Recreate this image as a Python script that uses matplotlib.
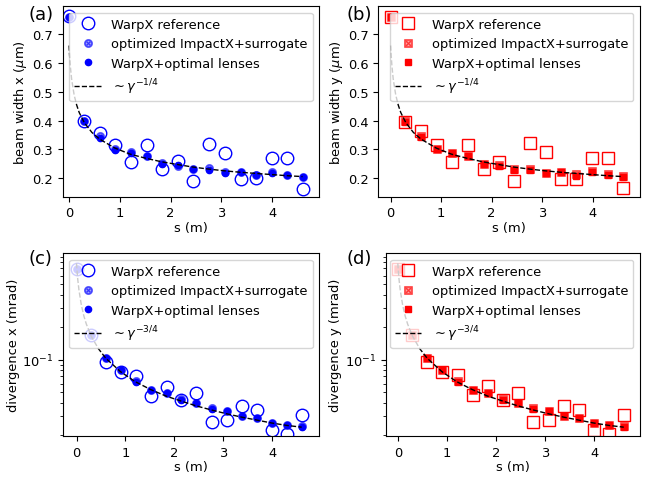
import matplotlib
matplotlib.use("Agg")
import matplotlib.pyplot as plt

plt.rcParams['font.family'] = ['DejaVu Sans']
plt.rcParams['font.size'] = 9.4

# stage positions (m)
s = [0, 0.29, 0.6, 0.91, 1.22, 1.53, 1.84, 2.14, 2.45, 2.76, 3.07, 3.38, 3.68, 3.99, 4.3, 4.61]

# (a) beam width x (um)
wx_ref = [0.761, 0.397, 0.358, 0.314, 0.256, 0.316, 0.232, 0.259, 0.192, 0.319, 0.288, 0.197, 0.200, 0.272, 0.271, 0.163]
wx_opt = [0.758, 0.400, 0.345, 0.302, 0.290, 0.278, 0.252, 0.243, 0.233, 0.235, 0.222, 0.223, 0.213, 0.222, 0.213, 0.206]
wx_lens = [0.758, 0.398, 0.340, 0.299, 0.287, 0.277, 0.250, 0.246, 0.231, 0.230, 0.220, 0.221, 0.211, 0.218, 0.212, 0.205]

# (b) beam width y (um)
wy_ref = [0.758, 0.395, 0.364, 0.317, 0.256, 0.316, 0.232, 0.256, 0.192, 0.323, 0.290, 0.197, 0.197, 0.272, 0.271, 0.165]
wy_opt = [0.758, 0.397, 0.347, 0.303, 0.289, 0.278, 0.251, 0.246, 0.232, 0.233, 0.220, 0.223, 0.215, 0.225, 0.214, 0.207]
wy_lens = [0.758, 0.395, 0.343, 0.300, 0.287, 0.277, 0.250, 0.244, 0.230, 0.230, 0.218, 0.221, 0.209, 0.221, 0.212, 0.206]

# (c) divergence x (mrad)
dx_ref = [0.687, 0.169, 0.096, 0.077, 0.0706, 0.0467, 0.0562, 0.042, 0.0494, 0.0263, 0.0279, 0.0371, 0.034, 0.0225, 0.0205, 0.0306]
dx_opt = [0.687, 0.169, 0.103, 0.081, 0.0635, 0.0525, 0.049, 0.0435, 0.040, 0.0355, 0.0335, 0.030, 0.029, 0.0262, 0.025, 0.0242]
dx_lens = [0.687, 0.169, 0.104, 0.0798, 0.0627, 0.0523, 0.0488, 0.0428, 0.0399, 0.0351, 0.0333, 0.0299, 0.0289, 0.026, 0.0249, 0.024]

# (d) divergence y (mrad)
dy_ref = [0.687, 0.169, 0.096, 0.077, 0.0717, 0.047, 0.057, 0.0422, 0.0494, 0.0263, 0.0279, 0.0371, 0.034, 0.0225, 0.0205, 0.0306]
dy_opt = [0.687, 0.169, 0.103, 0.081, 0.064, 0.0525, 0.049, 0.0432, 0.040, 0.0355, 0.0335, 0.030, 0.0292, 0.0262, 0.025, 0.0242]
dy_lens = [0.687, 0.169, 0.104, 0.0798, 0.0627, 0.0523, 0.0488, 0.0428, 0.0399, 0.0351, 0.0333, 0.0299, 0.0289, 0.026, 0.0249, 0.024]

# scaling reference curves (~gamma^-1/4 and ~gamma^-3/4)
s_fit = [0, 0.01, 0.025, 0.05, 0.1, 0.15, 0.2, 0.3, 0.45, 0.6, 0.9, 1.2, 1.5, 1.83, 2.13,
         2.44, 2.75, 3.06, 3.37, 3.68, 3.99, 4.3, 4.6]
w_fit = [0.66, 0.627, 0.589, 0.545, 0.489, 0.454, 0.428, 0.393, 0.359, 0.336, 0.305, 0.284, 0.270,
         0.257, 0.248, 0.239, 0.232, 0.226, 0.221, 0.217, 0.213, 0.209, 0.206]
d_fit = [0.78, 0.67, 0.555, 0.44, 0.318, 0.254, 0.214, 0.165, 0.126, 0.103, 0.0775, 0.0627, 0.0534,
         0.0461, 0.0416, 0.0375, 0.0344, 0.0317, 0.0295, 0.0277, 0.026, 0.0247, 0.0238]

W, H = 654, 481
fig = plt.figure(figsize=(W / 100, H / 100), dpi=100)


def add_ax(l, r, t, b):
    return fig.add_axes([l / W, 1 - b / H, (r - l) / W, (b - t) / H])


panels = [
    dict(box=(62.7, 319.3, 7, 197.5), ref=wx_ref, opt=wx_opt, lens=wx_lens, fit=w_fit,
         color='blue', m='o', om=r'$\otimes$', ms=9, lms=4.5, oms=5.5,
         ylabel=r'beam width x ($\mu$m)', flab=r'$\sim\gamma^{-1/4}$', log=False,
         xlim=(-0.125, 4.93), ylim=(0.137, 0.797), tag='(a)', tagpos=(28, 20)),
    dict(box=(378.3, 640, 7, 197.5), ref=wy_ref, opt=wy_opt, lens=wy_lens, fit=w_fit,
         color='red', m='s', om=r'$\boxtimes$', ms=8, lms=4.2, oms=5.5,
         ylabel=r'beam width y ($\mu$m)', flab=r'$\sim\gamma^{-1/4}$', log=False,
         xlim=(-0.245, 4.94), ylim=(0.137, 0.797), tag='(b)', tagpos=(346, 20)),
    dict(box=(63.3, 319.3, 254, 437.3), ref=dx_ref, opt=dx_opt, lens=dx_lens, fit=d_fit,
         color='blue', m='o', om=r'$\otimes$', ms=9, lms=4.5, oms=5.5,
         ylabel='divergence x (mrad)', flab=r'$\sim\gamma^{-3/4}$', log=True,
         xlim=(-0.27, 4.96), ylim=(0.0196, 0.97), tag='(c)', tagpos=(28, 264)),
    dict(box=(386, 640, 254, 437.3), ref=dy_ref, opt=dy_opt, lens=dy_lens, fit=d_fit,
         color='red', m='s', om=r'$\boxtimes$', ms=8, lms=4.2, oms=5.5,
         ylabel='divergence y (mrad)', flab=r'$\sim\gamma^{-3/4}$', log=True,
         xlim=(-0.24, 4.93), ylim=(0.0196, 0.97), tag='(d)', tagpos=(346, 264)),
]

for p in panels:
    ax = add_ax(*p['box'])
    c = p['color']
    ax.plot(s, p['ref'], linestyle='none', marker=p['m'], ms=p['ms'], mfc='none',
            mec=c, mew=1.0, label='WarpX reference')
    ax.plot(s, p['opt'], linestyle='none', marker=p['om'], ms=p['oms'], color=c,
            alpha=0.55, label='optimized ImpactX+surrogate')
    ax.plot(s, p['lens'], linestyle='none', marker=p['m'], ms=p['lms'], color=c,
            label='WarpX+optimal lenses')
    ax.plot(s_fit, p['fit'], 'k--', lw=1.0, label=p['flab'])
    if p['log']:
        ax.set_yscale('log')
    ax.set_xlim(*p['xlim'])
    ax.set_ylim(*p['ylim'])
    ax.set_xticks([0, 1, 2, 3, 4])
    ax.set_xlabel('s (m)', labelpad=1)
    ax.set_ylabel(p['ylabel'], labelpad=2)
    ax.legend(loc='upper right')
    fig.text(p['tagpos'][0] / W, 1 - p['tagpos'][1] / H, p['tag'], fontsize=13,
             ha='left', va='baseline')

fig.savefig('out.png', dpi=100)
